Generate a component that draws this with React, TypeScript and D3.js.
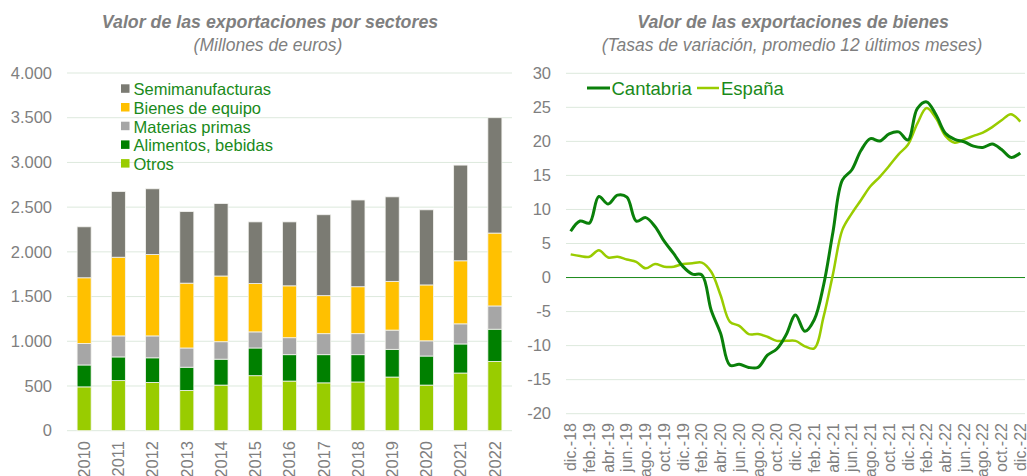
import React from "react";
import * as d3 from "d3";

// --- left chart: exportaciones por sectores (millones de euros)
const years = ["2010", "2011", "2012", "2013", "2014", "2015", "2016", "2017", "2018", "2019", "2020", "2021", "2022"];
const otros = [490, 560, 540, 450, 510, 615, 555, 535, 545, 600, 510, 645, 775];
const alimentos = [245, 265, 275, 260, 290, 310, 295, 315, 305, 310, 325, 325, 360];
const materias = [240, 235, 245, 215, 195, 180, 190, 235, 235, 215, 170, 225, 260];
const bienes = [735, 880, 910, 725, 735, 540, 580, 425, 525, 545, 625, 705, 815];
const semi = [570, 735, 735, 800, 810, 690, 715, 905, 970, 945, 840, 1070, 1290];
const leftTicks = [0, 500, 1000, 1500, 2000, 2500, 3000, 3500, 4000];

// --- right chart: tasas de variacion
const months = [
  "dic.-18",
  "ene.-19", "feb.-19", "mar.-19", "abr.-19", "may.-19", "jun.-19", "jul.-19", "ago.-19", "sep.-19", "oct.-19", "nov.-19", "dic.-19",
  "ene.-20", "feb.-20", "mar.-20", "abr.-20", "may.-20", "jun.-20", "jul.-20", "ago.-20", "sep.-20", "oct.-20", "nov.-20", "dic.-20",
  "ene.-21", "feb.-21", "mar.-21", "abr.-21", "may.-21", "jun.-21", "jul.-21", "ago.-21", "sep.-21", "oct.-21", "nov.-21", "dic.-21",
  "ene.-22", "feb.-22", "mar.-22", "abr.-22", "may.-22", "jun.-22", "jul.-22", "ago.-22", "sep.-22", "oct.-22", "nov.-22", "dic.-22",
];
const cantabria = [
  6.8, 8.3, 8.0, 11.9, 10.8, 12.1, 11.8, 8.3, 8.8, 7.5, 5.3, 3.5, 1.6,
  0.5, 0.4, -4.8, -8.2, -12.9, -12.75, -13.2, -13.2, -11.4, -10.5, -8.4, -5.5,
  -7.9, -6.2, -1.1, 6.7, 14.3, 15.8, 18.7, 20.4, 20.05, 21.1, 21.4, 20.2,
  24.8, 25.8, 23.9, 21.2, 20.3, 19.95, 19.3, 19.1, 19.6, 18.8, 17.65, 18.3,
];
const espana = [
  3.4, 3.15, 3.05, 4.0, 2.95, 3.05, 2.65, 2.3, 1.35, 1.98, 1.6, 1.6, 1.98,
  2.1, 2.2, 0.85, -2.6, -6.5, -7.1, -8.3, -8.3, -8.7, -9.3, -9.3, -9.3,
  -10.1, -10.4, -5.75, 0.5, 7.0, 9.4, 11.4, 13.4, 14.8, 16.4, 18.1, 19.5,
  22.6, 24.9, 23.4, 20.8, 19.8, 20.3, 20.8, 21.3, 22.1, 23.1, 24.0, 22.9,
];
const rightTicks = [-20, -15, -10, -5, 0, 5, 10, 15, 20, 25, 30];

const font = "'Liberation Sans', Arial, sans-serif";
const grey = "#7f7f7f";
const legendGreen = "#1a8a1a";
const gridCol = "#dde9dd";

const seriesL = [
  { name: "Otros", values: otros, color: "#99cc00" },
  { name: "Alimentos, bebidas", values: alimentos, color: "#008000" },
  { name: "Materias primas", values: materias, color: "#a6a6a6" },
  { name: "Bienes de equipo", values: bienes, color: "#ffc000" },
  { name: "Semimanufacturas", values: semi, color: "#7b7b73" },
];

const LeftChart = () => {
  const x = d3.scaleBand<string>().domain(years).range([67, 512]).paddingInner(0.59).paddingOuter(0.295);
  const y = d3.scaleLinear().domain([0, 4000]).range([430.7, 73]);
  const fmt = (v: number) => (v >= 1000 ? d3.format(",")(v).replace(",", ".") : String(v));
  const rows = years.map((yr, i) => {
    const r: any = { year: yr };
    seriesL.forEach((s) => (r[s.name] = s.values[i]));
    return r;
  });
  const stacked = d3.stack().keys(seriesL.map((s) => s.name))(rows);
  const legendOrder = [...seriesL].reverse();

  return (
    <g>
      <text x={270} y={28} textAnchor="middle" fontSize={17.8} fontWeight="bold" fontStyle="italic" fill={grey}>
        Valor de las exportaciones por sectores
      </text>
      <text x={268} y={51} textAnchor="middle" fontSize={17.5} fontStyle="italic" fill={grey}>
        (Millones de euros)
      </text>
      {leftTicks.map((t) => (
        <g key={t}>
          <line x1={67} x2={512} y1={y(t)} y2={y(t)} stroke={gridCol} strokeWidth={1} />
          <text x={52} y={y(t)} dy="0.35em" textAnchor="end" fontSize={16.5} fill={grey}>
            {fmt(t)}
          </text>
        </g>
      ))}
      {stacked.map((layer, k) => (
        <g key={layer.key} fill={seriesL[k].color}>
          {layer.map((d, i) => (
            <rect
              key={years[i]}
              x={x(years[i])}
              width={x.bandwidth()}
              y={y(d[1])}
              height={y(d[0]) - y(d[1])}
              stroke="#f4f4f0"
              strokeWidth={0.8}
            />
          ))}
        </g>
      ))}
      {years.map((yr) => (
        <text
          key={yr}
          transform={`translate(${(x(yr) as number) + x.bandwidth() / 2},441) rotate(-90)`}
          dy="0.35em"
          textAnchor="end"
          fontSize={16.5}
          fill={grey}
        >
          {yr}
        </text>
      ))}
      {legendOrder.map((s, i) => (
        <g key={s.name} transform={`translate(121,${95.3 + i * 18.7})`}>
          <rect x={0} y={-11} width={8.5} height={8.5} fill={s.color} />
          <text x={12.5} y={0} fontSize={16.5} fill={legendGreen}>
            {s.name}
          </text>
        </g>
      ))}
    </g>
  );
};

const RightChart = () => {
  const x = d3.scaleBand<string>().domain(months).range([566, 1025]);
  const y = d3.scaleLinear().domain([-20, 30]).range([413.7, 73.3]);
  const cx = (i: number) => (x(months[i]) as number) + x.bandwidth() / 2;
  const line = d3
    .line<number>()
    .x((_, i) => cx(i))
    .y((d) => y(d))
    .curve(d3.curveCatmullRom.alpha(0.5));

  return (
    <g>
      <text x={793} y={28} textAnchor="middle" fontSize={17.8} fontWeight="bold" fontStyle="italic" fill={grey}>
        Valor de las exportaciones de bienes
      </text>
      <text x={792} y={51} textAnchor="middle" fontSize={17.5} fontStyle="italic" fill={grey}>
        (Tasas de variación, promedio 12 últimos meses)
      </text>
      {rightTicks.map((t) => (
        <g key={t}>
          <line
            x1={566}
            x2={1025}
            y1={y(t)}
            y2={y(t)}
            stroke={t === 0 ? "#1a8a1a" : gridCol}
            strokeWidth={1}
          />
          <text x={551} y={y(t)} dy="0.35em" textAnchor="end" fontSize={16.5} fill={grey}>
            {t}
          </text>
        </g>
      ))}
      <path d={line(espana) || ""} fill="none" stroke="#99cc00" strokeWidth={2.5} />
      <path d={line(cantabria) || ""} fill="none" stroke="#0a800a" strokeWidth={3} />
      {months.map((m, i) =>
        i % 2 === 0 ? (
          <text
            key={m}
            transform={`translate(${cx(i)},423) rotate(-90)`}
            dy="0.35em"
            textAnchor="end"
            fontSize={16}
            fill={grey}
          >
            {m}
          </text>
        ) : null
      )}
      <g transform="translate(587,88)">
        <line x1={0} x2={23} y1={0} y2={0} stroke="#0a800a" strokeWidth={3} />
        <text x={24.5} y={6.5} fontSize={18.5} fill={legendGreen}>
          Cantabria
        </text>
        <line x1={110} x2={132} y1={0} y2={0} stroke="#99cc00" strokeWidth={2.5} />
        <text x={134} y={6.5} fontSize={18.5} fill={legendGreen}>
          España
        </text>
      </g>
    </g>
  );
};

export default function App() {
  return (
    <svg
      width={1027}
      height={476}
      style={{ position: "absolute", left: 0, top: 0, background: "#fff" }}
      fontFamily={font}
    >
      <LeftChart />
      <RightChart />
    </svg>
  );
}
